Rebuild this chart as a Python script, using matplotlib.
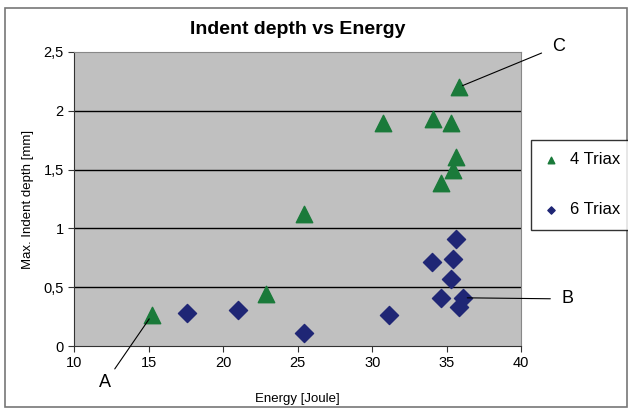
import matplotlib
matplotlib.use("Agg")
import matplotlib.pyplot as plt
from matplotlib.patches import Rectangle
from matplotlib.ticker import FuncFormatter

plt.rcParams['font.family'] = ['Liberation Sans', 'DejaVu Sans']

# 4 Triax (green triangles)
energy_4 = [15.2, 22.9, 25.4, 30.7, 34.1, 35.3, 35.6, 35.4, 34.6, 35.8]
depth_4 = [0.26, 0.44, 1.12, 1.90, 1.93, 1.90, 1.61, 1.50, 1.39, 2.20]

# 6 Triax (navy diamonds)
energy_6 = [17.6, 21.0, 25.4, 31.1, 34.0, 35.4, 35.6, 35.3, 34.6, 36.1, 35.8]
depth_6 = [0.28, 0.31, 0.11, 0.26, 0.71, 0.74, 0.91, 0.57, 0.41, 0.41, 0.33]

x_ticks = [10, 15, 20, 25, 30, 35, 40]
y_ticks = [0, 0.5, 1, 1.5, 2, 2.5]

green = '#1a7a3a'
navy = '#1f2675'

fig = plt.figure(figsize=(6.28, 4.09), dpi=100)
ax = fig.add_axes([0.118, 0.154, 0.712, 0.719])
ax.set_facecolor('#c0c0c0')

ax.scatter(energy_4, depth_4, marker='^', s=140, color=green, label='4 Triax', zorder=3)
ax.scatter(energy_6, depth_6, marker='D', s=85, color=navy, label='6 Triax', zorder=3)

ax.set_xlim(10, 40)
ax.set_ylim(0, 2.5)
ax.set_xticks(x_ticks)
ax.set_yticks(y_ticks)
ax.yaxis.set_major_formatter(FuncFormatter(lambda v, p: ('%g' % v).replace('.', ',')))
for y in y_ticks[1:-1]:
    ax.axhline(y, color='black', lw=1.0, zorder=1)

ax.tick_params(labelsize=10.5, length=4, color='#333333', direction='out')
for side in ['left', 'bottom']:
    ax.spines[side].set_color('#333333')
for side in ['top', 'right']:
    ax.spines[side].set_color('#888888')

ax.set_title('Indent depth vs Energy', fontsize=14, fontweight='bold', pad=13)
ax.set_xlabel('Energy [Joule]', fontsize=9.5, labelpad=16)
ax.set_ylabel('Max. Indent depth [mm]', fontsize=9.5, labelpad=7)

# callouts A, B, C
line_kw = dict(arrowstyle='-', color='black', lw=0.8, shrinkA=2, shrinkB=3)
ax.annotate('A', xy=(energy_4[0], depth_4[0]), xytext=(12.1, -0.31),
            fontsize=13, ha='center', va='center', annotation_clip=False,
            arrowprops=line_kw)
ax.annotate('B', xy=(energy_6[9], depth_6[9]), xytext=(43.1, 0.40),
            fontsize=13, ha='center', va='center', annotation_clip=False,
            arrowprops=dict(line_kw, shrinkA=6))
ax.annotate('C', xy=(energy_4[9], depth_4[9]), xytext=(42.5, 2.55),
            fontsize=13, ha='center', va='center', annotation_clip=False,
            arrowprops=dict(line_kw, shrinkA=6))

leg = fig.legend(loc='upper left', bbox_to_anchor=(0.845, 0.658), fontsize=12,
                 frameon=True, fancybox=False, edgecolor='black', borderaxespad=0,
                 labelspacing=2.1, handletextpad=0.7, markerscale=0.4,
                 borderpad=0.75, handlelength=0.9)
leg.get_frame().set_linewidth(1.0)

fig.patches.append(Rectangle((0.008, 0.005), 0.99, 0.975, transform=fig.transFigure,
                             fill=False, edgecolor='#777777', lw=1.2))

fig.savefig('out.png', dpi=100)
